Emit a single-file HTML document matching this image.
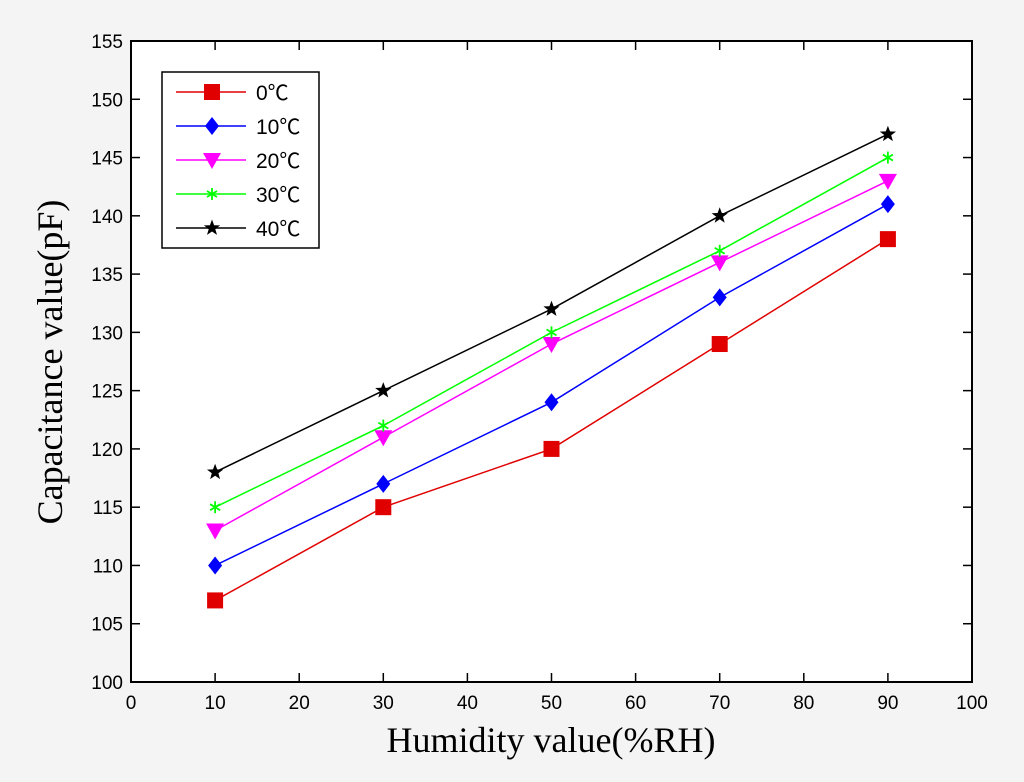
<!DOCTYPE html>
<html><head><meta charset="utf-8"><style>
html,body{margin:0;padding:0;background:#f4f4f4;}
svg{display:block;font-family:"Liberation Sans",sans-serif;}
</style></head><body>
<svg id="chart" width="1024" height="782">
<rect x="0" y="0" width="1024" height="782" fill="#f4f4f4"/>
<rect x="131" y="41" width="841" height="641" fill="#fff"/>
<g id="grid"></g>
<g id="series"></g>
<rect x="131" y="41" width="841" height="641" fill="none" stroke="#000" stroke-width="2"/>
<text x="551" y="752" font-family="Liberation Serif,serif" font-size="36" text-anchor="middle">Humidity value(%RH)</text>
<text transform="translate(62,362) rotate(-90)" font-family="Liberation Serif,serif" font-size="36" text-anchor="middle">Capacitance value(pF)</text>
<g id="legend"></g>
</svg>
<script>
const categories=[10,30,50,70,90];
const labels=["0℃","10℃","20℃","30℃","40℃"];
const s0=[107,115,120,129,138];
const s1=[110,117,124,133,141];
const s2=[113,121,129,136,143];
const s3=[115,122,130,137,145];
const s4=[118,125,132,140,147];
const xTicks=[0,10,20,30,40,50,60,70,80,90,100];
const yTicks=[100,105,110,115,120,125,130,135,140,145,150,155];
const series=[s0,s1,s2,s3,s4];
const colors=["#e00000","#0000ff","#ff00ff","#00ff00","#000000"];
const markers=["square","diamond","tri","star6","star5"];
const NS="http://www.w3.org/2000/svg";
const X0=131,X1=972,Y0=682,Y1=41;
const xs=v=>X0+(v-0)/(100-0)*(X1-X0);
const ys=v=>Y0-(v-100)/(155-100)*(Y0-Y1);
function mk(tag,a,p){const e=document.createElementNS(NS,tag);for(const k in a)e.setAttribute(k,a[k]);p.appendChild(e);return e;}
const grid=document.getElementById('grid');
xTicks.forEach(t=>{const x=xs(t);
 mk('line',{x1:x,x2:x,y1:Y0,y2:Y0-9,stroke:'#000','stroke-width':1.5},grid);
 mk('line',{x1:x,x2:x,y1:Y1,y2:Y1+9,stroke:'#000','stroke-width':1.5},grid);
 const tx=mk('text',{x:x,y:Y0+27,'font-size':19,'text-anchor':'middle'},grid);tx.textContent=t;
 
 
});
yTicks.forEach(t=>{const y=ys(t);
 mk('line',{x1:X0,x2:X0+9,y1:y,y2:y,stroke:'#000','stroke-width':1.5},grid);
 mk('line',{x1:X1,x2:X1-9,y1:y,y2:y,stroke:'#000','stroke-width':1.5},grid);
 const tx=mk('text',{x:X0-8,y:y+7,'font-size':19,'text-anchor':'end'},grid);tx.textContent=t;
 
 
});
function marker(p,kind,x,y,c){
 if(kind=='square')return mk('rect',{x:x-8,y:y-8,width:16,height:16,fill:c},p);
 if(kind=='diamond')return mk('polygon',{points:`${x},${y-9} ${x+7},${y} ${x},${y+9} ${x-7},${y}`,fill:c},p);
 if(kind=='tri')return mk('polygon',{points:`${x-9},${y-7} ${x+9},${y-7} ${x},${y+9}`,fill:c},p);
 if(kind=='star6'){const g=mk('g',{stroke:c,'stroke-width':1.8},p);
  [[0,-6,0,6],[-5,-3,5,3],[-5,3,5,-3]].forEach(l=>mk('line',{x1:x+l[0],y1:y+l[1],x2:x+l[2],y2:y+l[3]},g));return g;}
 let pts=[];for(let i=0;i<10;i++){const r=i%2?3.5:8.5,a=-Math.PI/2+i*Math.PI/5;pts.push((x+r*Math.cos(a)).toFixed(1)+','+(y+r*Math.sin(a)).toFixed(1));}
 return mk('polygon',{points:pts.join(' '),fill:c},p);
}
const sg=document.getElementById('series');
series.forEach((s,i)=>{
 const g=mk('g',{},sg);
 
 
 mk('polyline',{points:s.map((v,j)=>xs(categories[j])+','+ys(v)).join(' '),fill:'none',stroke:colors[i],'stroke-width':1.5},g);
 s.forEach((v,j)=>{const m=marker(g,markers[i],xs(categories[j]),ys(v),colors[i]);
  
  });
});
const lg=document.getElementById('legend');
mk('rect',{x:162,y:72,width:157,height:176,fill:'#fff',stroke:'#000','stroke-width':1.5},lg);
labels.forEach((l,i)=>{const y=92+i*34;
 mk('line',{x1:176,x2:246,y1:y,y2:y,stroke:colors[i],'stroke-width':1.5},lg);
 marker(lg,markers[i],212,y,colors[i]);
 const t=mk('text',{x:256,y:y+8,'font-size':21,'font-family':'Liberation Sans, Noto Sans CJK SC, sans-serif'},lg);t.textContent=l;
 
 
});
</script>
</body></html>
